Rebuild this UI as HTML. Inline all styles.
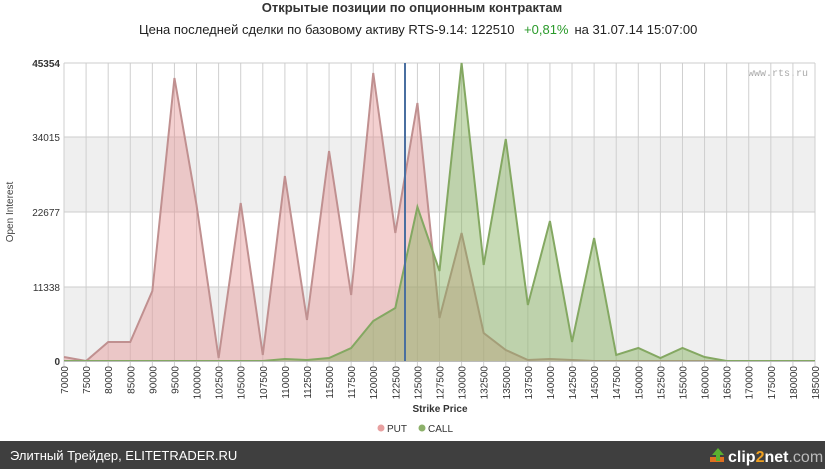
<!DOCTYPE html>
<html><head><meta charset="utf-8"><style>
body{margin:0;width:825px;height:469px;background:#fff;overflow:hidden;font-family:"Liberation Sans",sans-serif}
</style></head><body>
<svg width="825" height="469" xmlns="http://www.w3.org/2000/svg" font-family="Liberation Sans, sans-serif">
<text x="412" y="12" text-anchor="middle" font-size="13" font-weight="bold" fill="#333">Открытые позиции по опционным контрактам</text>
<text x="139" y="34" font-size="13" fill="#222">Цена последней сделки по базовому активу RTS-9.14: 122510 <tspan fill="#2a9a2a" dx="6">+0,81%</tspan><tspan dx="6">на 31.07.14 15:07:00</tspan></text>
<text x="808" y="76" text-anchor="end" font-size="10" fill="#aaa" font-family="Liberation Mono, monospace">www.rts.ru</text>
<rect x="64" y="137" width="751" height="75" fill="#efefef"/>
<rect x="64" y="287" width="751" height="74" fill="#efefef"/>
<g id="grid" stroke="#cfcfcf" stroke-width="1"></g>
<line x1="64" y1="63" x2="815" y2="63" stroke="#ccc"/>
<line x1="64" y1="137" x2="815" y2="137" stroke="#ccc"/>
<line x1="64" y1="212" x2="815" y2="212" stroke="#ccc"/>
<line x1="64" y1="287" x2="815" y2="287" stroke="#ccc"/>
<g id="series"></g>
<line x1="405" y1="63" x2="405" y2="361" stroke="#4a6fa0" stroke-width="2"/>
<line x1="64" y1="361.5" x2="815" y2="361.5" stroke="#bbb"/>
<g font-size="10" fill="#333" text-anchor="end">
<text x="60" y="67" font-weight="bold">45354</text>
<text x="60" y="141">34015</text>
<text x="60" y="216">22677</text>
<text x="60" y="291">11338</text>
<text x="60" y="365" font-weight="bold">0</text>
</g>
<text transform="translate(13,212) rotate(-90)" text-anchor="middle" font-size="10" fill="#444">Open Interest</text>
<g id="xl" font-size="10" fill="#333"></g>
<text x="440" y="412" text-anchor="middle" font-size="10" font-weight="bold" fill="#333">Strike Price</text>
<circle cx="381" cy="428" r="3.5" fill="#e8a0a0"/><text x="387" y="432" font-size="10" fill="#333">PUT</text>
<circle cx="422" cy="428" r="3.5" fill="#8cb06a"/><text x="428" y="432" font-size="10" fill="#333">CALL</text>
<rect x="0" y="441" width="825" height="28" fill="#3f3f3f"/>
<text x="10" y="460" font-size="13" fill="#fff">Элитный Трейдер, ELITETRADER.RU</text>
<path d="M710 462 h14 v-5 h-14z" fill="#e07020"/><path d="M718 448 l-6 7 h4 v6 h4 v-6 h4z" fill="#5ab030"/>
<text x="728" y="462" font-size="16" font-weight="bold" fill="#fff">clip<tspan fill="#f0a020">2</tspan>net<tspan fill="#bbb" font-weight="normal">.com</tspan></text>
</svg>
<script>
const L=[70000,75000,80000,85000,90000,95000,100000,102500,105000,107500,110000,112500,115000,117500,120000,122500,125000,127500,130000,132500,135000,137500,140000,142500,145000,147500,150000,152500,155000,160000,165000,170000,175000,180000,185000];
const X=i=>64+i*751/34;
const put=[357,361,342,342,291,78,205,358,203,355,176,320,151,295,73,233,103,318,233,333,350,360,359,360,361,361,361,361,361,361,361,361,361,361,361];
const call=[361,361,361,361,361,361,361,361,361,361,359,360,358,348,321,308,207,271,63,265,139,305,221,342,238,355,348,358,348,357,361,361,361,361,361];
const ns="http://www.w3.org/2000/svg";
let g=document.getElementById('grid'),xl=document.getElementById('xl'),s=document.getElementById('series');
L.forEach((v,i)=>{let l=document.createElementNS(ns,'line');l.setAttribute('x1',X(i));l.setAttribute('x2',X(i));l.setAttribute('y1',63);l.setAttribute('y2',366);g.appendChild(l);
let t=document.createElementNS(ns,'text');t.setAttribute('transform',`translate(${X(i)+4},366) rotate(-90)`);t.setAttribute('text-anchor','end');t.textContent=v;xl.appendChild(t);});
function area(d,fill,stroke){let p=d.map((y,i)=>X(i)+','+y).join(' ');
let a=document.createElementNS(ns,'polygon');a.setAttribute('points',`64,361 ${p} 815,361`);a.setAttribute('fill',fill);s.appendChild(a);
let l=document.createElementNS(ns,'polyline');l.setAttribute('points',p);l.setAttribute('fill','none');l.setAttribute('stroke',stroke);l.setAttribute('stroke-width',2);s.appendChild(l);}
area(put,'rgba(230,150,150,0.45)','#c09090');
area(call,'rgba(130,175,90,0.45)','#84a862');
</script>
</body></html>
